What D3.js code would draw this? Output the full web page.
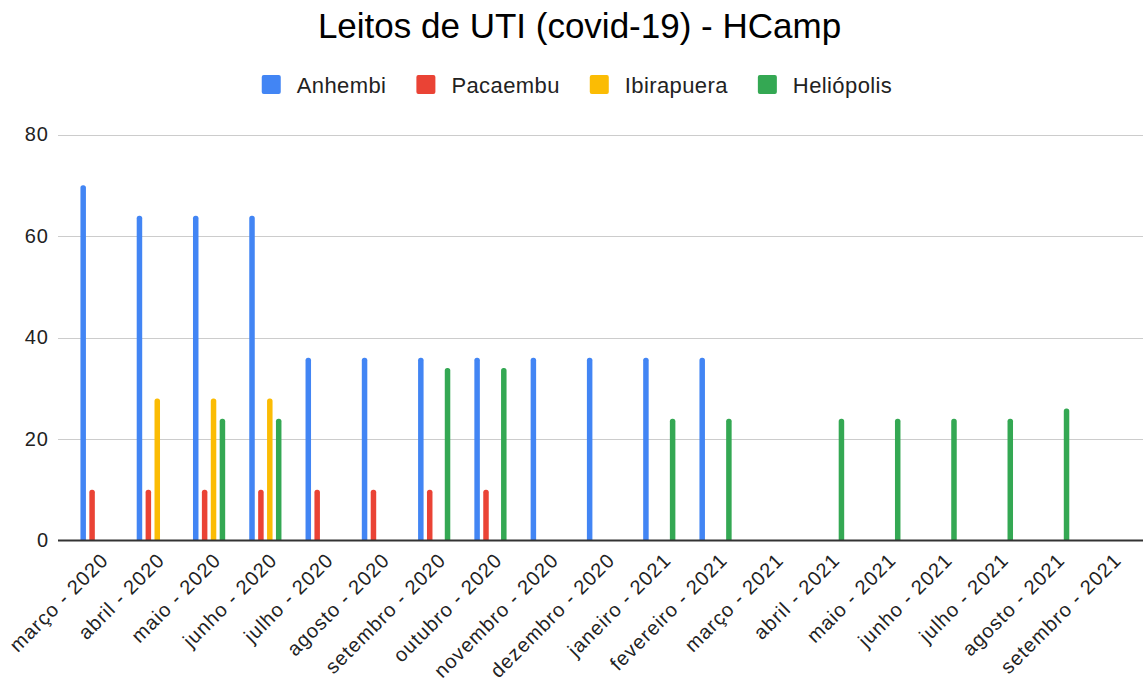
<!DOCTYPE html>
<html><head><meta charset="utf-8">
<script src="https://cdn.jsdelivr.net/npm/d3@7"></script>
<style>body{margin:0;background:#fff}svg{display:block}text{font-family:"Liberation Sans",Arial,sans-serif}</style>
</head><body><svg id="c" width="1144" height="682"></svg>
<script>
const categories = ["março - 2020","abril - 2020","maio - 2020","junho - 2020","julho - 2020","agosto - 2020","setembro - 2020","outubro - 2020","novembro - 2020","dezembro - 2020","janeiro - 2021","fevereiro - 2021","março - 2021","abril - 2021","maio - 2021","junho - 2021","julho - 2021","agosto - 2021","setembro - 2021"];
const seriesNames = ["Anhembi","Pacaembu","Ibirapuera","Heliópolis"];
const anhembi    = [70,64,64,64,36,36,36,36,36,36,36,36,null,null,null,null,null,null,null];
const pacaembu   = [10,10,10,10,10,10,10,10,null,null,null,null,null,null,null,null,null,null,null];
const ibirapuera = [null,28,28,28,null,null,null,null,null,null,null,null,null,null,null,null,null,null,null];
const heliopolis = [null,null,24,24,null,null,34,34,null,null,24,24,null,24,24,24,24,26,null];
const yTicks = [0,20,40,60,80];
const colors = ["#4285F4","#EA4335","#FBBC04","#34A853"];
const title = "Leitos de UTI (covid-19) - HCamp";

const seriesValues = [anhembi, pacaembu, ibirapuera, heliopolis];
const svg = d3.select("#c");

const x = d3.scaleBand().domain(categories).range([68.4, 1137.6]).padding(0);
const groupW = 35.6;
const x1 = d3.scaleBand().domain(seriesNames).range([0, groupW]);
const barW = 5.5;
const y = d3.scaleLinear().domain([0, 80]).range([540.5, 134.5]);

// title
svg.append("text").attr("x", 579.5).attr("y", 38).attr("text-anchor","middle")
  .attr("font-size", 35).attr("fill","#000").text(title);

// gridlines
svg.append("g").selectAll("line").data(yTicks.filter(t=>t>0)).join("line")
  .attr("x1",58).attr("x2",1143).attr("y1",d=>Math.round(y(d))+0.5).attr("y2",d=>Math.round(y(d))+0.5)
  .attr("stroke","#cccccc").attr("stroke-width",1);

// y axis labels via d3 axis
const yAxis = svg.append("g").attr("transform","translate(49,0)")
  .call(d3.axisLeft(y).tickValues(yTicks).tickSize(0).tickPadding(0));
yAxis.select(".domain").remove();
yAxis.selectAll("text").attr("font-size",20).attr("letter-spacing","1px").attr("fill","#222").attr("font-family","Liberation Sans, Arial, sans-serif");

// bars
const data = [];
categories.forEach((c,i)=>seriesNames.forEach((s,j)=>{
  const v = seriesValues[j][i];
  if (v != null && v > 0) data.push({c, s, v, j});
}));
function barPath(d){
  const cx = x(d.c) + (x.bandwidth()-groupW)/2 + x1(d.s) + x1.bandwidth()/2;
  const x0 = cx - barW/2, x2 = cx + barW/2, yt = y(d.v), yb = y(0), r = 2.5;
  return `M${x0},${yb}L${x0},${yt+r}A${r},${r} 0 0 1 ${x0+r},${yt}L${x2-r},${yt}A${r},${r} 0 0 1 ${x2},${yt+r}L${x2},${yb}Z`;
}
svg.append("g").selectAll("path").data(data).join("path")
  .attr("d", barPath).attr("fill", d=>colors[d.j]);

// baseline
svg.append("line").attr("x1",58).attr("x2",1143).attr("y1",y(0)).attr("y2",y(0))
  .attr("stroke","#333").attr("stroke-width",2);

// x axis labels
const xAxis = svg.append("g").attr("transform",`translate(0,${y(0)})`)
  .call(d3.axisBottom(x).tickSize(0).tickPadding(0));
xAxis.select(".domain").remove();
xAxis.selectAll("text")
  .attr("font-size",20).attr("letter-spacing","1px").attr("fill","#222").attr("font-family","Liberation Sans, Arial, sans-serif")
  .attr("text-anchor","end").attr("dy",null).attr("y",0).attr("x",0)
  .attr("transform","translate(13,21) rotate(-45)");

// legend
const lg = svg.append("g");
let cx = 0;
seriesNames.forEach((s,i)=>{
  const g = lg.append("g");
  g.append("rect").attr("x",cx).attr("y",75).attr("width",19).attr("height",19).attr("rx",2).attr("fill",colors[i]);
  const t = g.append("text").attr("x",cx+35).attr("y",93).attr("font-size",22).attr("letter-spacing","0.4px").attr("fill","#222").text(s);
  const w = t.node().getComputedTextLength();
  cx += 35 + w + 30;
});
const total = cx - 30;
lg.attr("transform",`translate(${577 - total/2},0)`);
</script></body></html>
